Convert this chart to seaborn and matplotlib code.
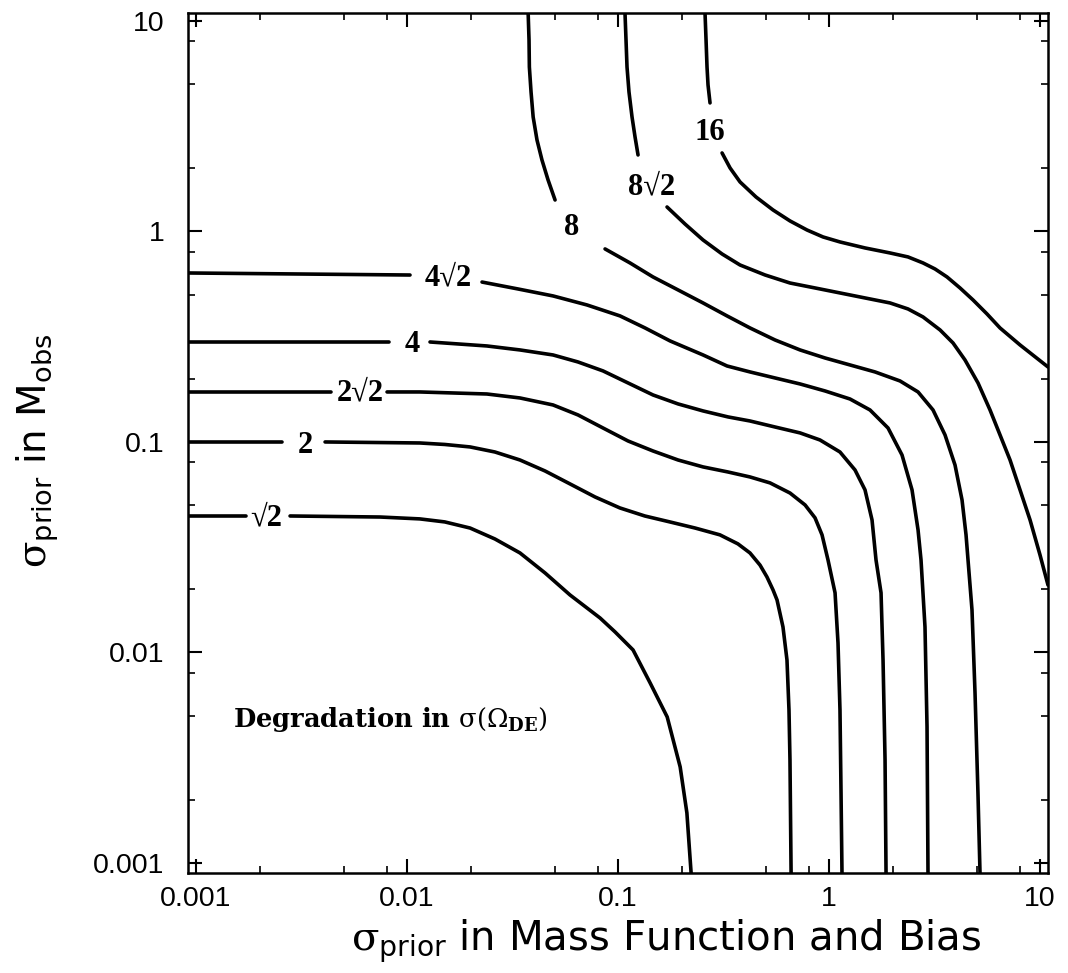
import numpy as np
import pandas as pd
import matplotlib
matplotlib.use("Agg")
import matplotlib.pyplot as plt
import seaborn as sns
from matplotlib.ticker import FixedLocator, FuncFormatter, LogLocator, NullFormatter

# ---- contour curves (x = sigma_prior MF&bias, y = sigma_prior M_obs)
# each curve is split in two pieces at its label; label_break = index where the 2nd piece starts
x_sqrt2 = [0.000916, 0.001726, 0.00279, 0.00745, 0.0115, 0.0151, 0.0199, 0.0261, 0.0343, 0.0451, 0.0592,
           0.0822, 0.0968, 0.1178, 0.142, 0.171, 0.197, 0.212, 0.222]
y_sqrt2 = [0.0445, 0.0445, 0.0445, 0.044, 0.0431, 0.0417, 0.039, 0.0346, 0.0297, 0.02386, 0.01876,
           0.01458, 0.01252, 0.01028, 0.00716, 0.00494, 0.00286, 0.00173, 0.000896]

x_2 = [0.000916, 0.002556, 0.004088, 0.0115, 0.0151, 0.0199, 0.0261, 0.0343, 0.0451, 0.0592, 0.0778, 0.102,
       0.134, 0.176, 0.232, 0.304, 0.370, 0.422, 0.471, 0.508, 0.543, 0.567, 0.605, 0.632, 0.646, 0.653, 0.661]
y_2 = [0.1, 0.1, 0.1, 0.0989, 0.0973, 0.0947, 0.0896, 0.0821, 0.0728, 0.0632, 0.0548, 0.0486,
       0.0445, 0.0417, 0.039, 0.0362, 0.0328, 0.0297, 0.026, 0.02284, 0.0198, 0.01776, 0.01322, 0.00921,
       0.00533, 0.00309, 0.000896]

x_2sqrt2 = [0.000916, 0.00436, 0.00804, 0.0115, 0.0239, 0.0343, 0.0492, 0.0646, 0.0849, 0.1115, 0.1465, 0.1925,
            0.253, 0.3322, 0.422, 0.5253, 0.6533, 0.77, 0.8585, 0.9265, 0.989, 1.068, 1.103, 1.127, 1.14, 1.152]
y_2sqrt2 = [0.1728, 0.1728, 0.1728, 0.1728, 0.169, 0.1618, 0.1499, 0.1344, 0.1165, 0.1011, 0.0906, 0.0821,
            0.0761, 0.0720, 0.0682, 0.0639, 0.0572, 0.0502, 0.0436, 0.0362, 0.0275, 0.0192, 0.0111, 0.00533,
            0.00215, 0.000896]

x_4 = [0.000916, 0.00822, 0.01285, 0.0239, 0.0343, 0.0492, 0.0646, 0.0849, 0.1115, 0.1465, 0.1925, 0.253,
       0.3322, 0.422, 0.5546, 0.729, 0.906, 1.127, 1.328, 1.481, 1.599, 1.67, 1.764, 1.803, 1.843, 1.863]
y_4 = [0.2985, 0.2985, 0.2985, 0.2858, 0.2736, 0.259, 0.2399, 0.2175, 0.1907, 0.1672, 0.1516, 0.1404,
       0.1315, 0.1258, 0.1178, 0.1104, 0.1022, 0.0896, 0.0736, 0.0592, 0.0426, 0.0275, 0.0192, 0.0092,
       0.00309, 0.000896]

x_4sqrt2 = [0.000916, 0.01033, 0.02267, 0.0336, 0.0492, 0.0713, 0.1022, 0.1343, 0.1764, 0.2529, 0.3286, 0.4222,
            0.5546, 0.729, 0.9573, 1.257, 1.564, 1.904, 2.218, 2.474, 2.642, 2.729, 2.85, 2.914, 2.945]
y_4sqrt2 = [0.635, 0.621, 0.575, 0.533, 0.494, 0.4475, 0.397, 0.348, 0.302, 0.259, 0.2296, 0.2151,
            0.2014, 0.1886, 0.1747, 0.16, 0.1419, 0.1165, 0.0867, 0.0592, 0.0382, 0.0275, 0.01322, 0.00443,
            0.000896]

x_8 = [0.0375, 0.03786, 0.038, 0.0387, 0.0396, 0.0413, 0.0436, 0.0466, 0.0503,
       0.0868, 0.114, 0.1465, 0.1925, 0.2529, 0.3286, 0.4222, 0.5546, 0.729, 0.9573, 1.257, 1.652, 2.17,
       2.642, 3.111, 3.546, 3.955, 4.27, 4.46, 4.558, 4.76, 4.92, 5.08, 5.195]
y_8 = [10.91, 8.124, 6.045, 4.6, 3.50, 2.72, 2.186, 1.757, 1.411,
       0.826, 0.7086, 0.608, 0.5275, 0.4575, 0.397, 0.348, 0.3052, 0.2736, 0.2506, 0.2322, 0.2151, 0.1949,
       0.1728, 0.1419, 0.108, 0.0777, 0.053, 0.0362, 0.0275, 0.01592, 0.00642, 0.00215, 0.000896]

x_8sqrt2 = [0.1079, 0.1091, 0.1103, 0.1127, 0.1165, 0.1204, 0.1244,
            0.1707, 0.2077, 0.2529, 0.3112, 0.3786, 0.4972, 0.6533, 0.8585, 1.127, 1.481, 1.946, 2.368, 2.79,
            3.36, 3.87, 4.41, 5.083, 5.795, 6.463, 7.21, 8.04, 8.97, 10.0, 10.91]
y_8sqrt2 = [10.91, 8.124, 6.045, 4.6, 3.50, 2.812, 2.309,
            1.307, 1.085, 0.911, 0.7817, 0.693, 0.6214, 0.569, 0.539, 0.5104, 0.4832, 0.4575, 0.4284, 0.3925,
            0.3404, 0.2953, 0.2452, 0.1907, 0.1419, 0.108, 0.0821, 0.0592, 0.0426, 0.02905, 0.0209]

x_16 = [0.2584, 0.2613, 0.2641, 0.267, 0.2729,
        0.3112, 0.3396, 0.3786, 0.4508, 0.5428, 0.6533, 0.7866, 0.9366, 1.127, 1.481, 1.946, 2.368, 2.79,
        3.18, 3.624, 4.177, 4.814, 5.609, 6.463, 8.04, 10.91]
y_16 = [10.91, 8.124, 6.045, 4.966, 4.08,
        2.36, 2.003, 1.719, 1.458, 1.265, 1.122, 1.016, 0.9417, 0.8916, 0.835, 0.7904, 0.7568, 0.7086,
        0.6634, 0.608, 0.539, 0.4727, 0.4055, 0.348, 0.289, 0.2271]

# contour labels
label_text = ["√2", "2", "2√2", "4", "4√2", "8", "8√2", "16"]
label_x = [0.00215, 0.00329, 0.00599, 0.01056, 0.01564, 0.0605, 0.1449, 0.273]
label_y = [0.0436, 0.0967, 0.171, 0.289, 0.601, 1.05, 1.627, 2.94]
label_break = [2, 2, 2, 2, 2, 9, 7, 5]

# axis ticks
major_ticks = [0.001, 0.01, 0.1, 1, 10]
tick_labels = ["0.001", "0.01", "0.1", "1", "10"]

curve_xy = [(x_sqrt2, y_sqrt2), (x_2, y_2), (x_2sqrt2, y_2sqrt2), (x_4, y_4),
            (x_4sqrt2, y_4sqrt2), (x_8, y_8), (x_8sqrt2, y_8sqrt2), (x_16, y_16)]
frames = []
for name, (xs, ys), brk in zip(label_text, curve_xy, label_break):
    idx = np.arange(len(xs))
    piece = np.where(idx < brk, name + "_a", name + "_b")
    frames.append(pd.DataFrame({"piece": piece, "x": xs, "y": ys}))
df = pd.concat(frames, ignore_index=True)

sns.set_theme(style="ticks")
plt.rcParams["font.family"] = ["Liberation Sans", "DejaVu Sans"]
plt.rcParams["text.color"] = "black"
plt.rcParams["axes.labelcolor"] = "black"
plt.rcParams["mathtext.fontset"] = "custom"
plt.rcParams["mathtext.rm"] = "DejaVu Serif"
plt.rcParams["mathtext.sf"] = "DejaVu Sans"
plt.rcParams["mathtext.bf"] = "DejaVu Serif:bold"
plt.rcParams["mathtext.it"] = "DejaVu Serif:italic"

fig = plt.figure(figsize=(10.68, 9.73), dpi=100)
ax = fig.add_axes([188 / 1068, 1 - 873 / 973, 860 / 1068, 860 / 973])
ax.set_xscale("log")
ax.set_yscale("log")

sns.lineplot(data=df, x="x", y="y", units="piece", estimator=None, sort=False,
             color="black", linewidth=2.6, ax=ax, legend=False)

for t, lx, ly in zip(label_text, label_x, label_y):
    ax.text(lx, ly, t, ha="center", va="center", fontsize=22, fontweight="bold",
            family=["Liberation Serif", "DejaVu Serif"], color="black", zorder=5)

ax.text(0.001498, 0.00443, r"Degradation in $\mathrm{\sigma(\Omega}_{\mathbf{DE}}\mathrm{)}$",
        ha="left", va="baseline", fontsize=18.5, fontweight="bold",
        family=["DejaVu Serif"], color="black")

ax.set_xlim(0.000916, 10.91)
ax.set_ylim(0.000896, 10.91)

for axis in (ax.xaxis, ax.yaxis):
    axis.set_major_locator(FixedLocator(major_ticks))
    axis.set_major_formatter(FuncFormatter(lambda v, p: tick_labels[major_ticks.index(v)] if v in major_ticks else ""))
    axis.set_minor_locator(LogLocator(base=10, subs=[2, 5, 8], numticks=20))
    axis.set_minor_formatter(NullFormatter())

ax.tick_params(which="both", direction="in", top=True, right=True, colors="black")
ax.tick_params(which="major", length=10, width=1.5, labelsize=20.5, labelcolor="black")
ax.tick_params(axis="x", which="major", pad=9)
ax.tick_params(axis="y", which="major", pad=17)
ax.tick_params(which="minor", length=5, width=1.2)
for s in ax.spines.values():
    s.set_linewidth(1.8)
    s.set_color("black")

ax.set_xlabel(r"$\mathrm{\sigma}_{\mathsf{prior}}$ in Mass Function and Bias", fontsize=29,
              family=["DejaVu Sans"], color="black")
ax.set_ylabel(r"$\mathrm{\sigma}_{\mathsf{prior}}$ in M$_{\mathsf{obs}}$", fontsize=28,
              family=["DejaVu Sans"], color="black")
ax.xaxis.label.set_verticalalignment("baseline")
ax.yaxis.label.set_verticalalignment("baseline")
ax.xaxis.set_label_coords(0.556, -0.0895)
ax.yaxis.set_label_coords(-0.164, 0.491)

fig.savefig("out.png", dpi=100, facecolor="white")
